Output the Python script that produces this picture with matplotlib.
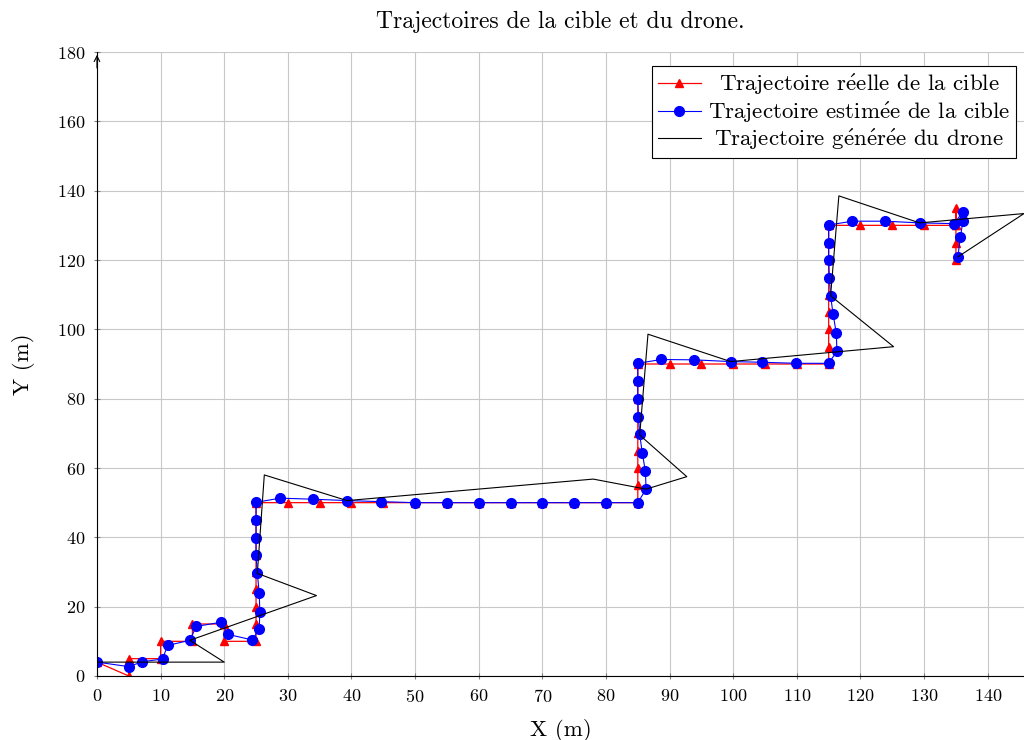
import matplotlib
matplotlib.use("Agg")
import matplotlib.pyplot as plt

plt.rcParams['font.family'] = ['cmr10', 'DejaVu Serif']
plt.rcParams['mathtext.fontset'] = 'cm'
plt.rcParams['axes.formatter.use_mathtext'] = True

# trajectoire reelle de la cible
real_x = [0, 5, 5, 10, 10, 15, 15, 20, 20, 25,
          25, 25, 25, 25, 25, 25, 25, 25,
          30, 35, 40, 45, 50, 55, 60, 65, 70, 75, 80, 85,
          85, 85, 85, 85, 85, 85, 85, 85,
          90, 95, 100, 105, 110, 115,
          115, 115, 115, 115, 115, 115, 115, 115,
          120, 125, 130, 135, 135, 135, 135, 135]
real_y = [4, 0, 5, 5, 10, 10, 15, 15, 10, 10,
          15, 20, 25, 30, 35, 40, 45, 50,
          50, 50, 50, 50, 50, 50, 50, 50, 50, 50, 50, 50,
          55, 60, 65, 70, 75, 80, 85, 90,
          90, 90, 90, 90, 90, 90,
          95, 100, 105, 110, 115, 120, 125, 130,
          130, 130, 130, 130, 135, 130, 125, 120]

# trajectoire estimee
est_x = [0, 5, 7.1, 10.3, 11.1, 14.6, 15.6, 19.5, 20.6, 24.4,
         25.5, 25.6, 25.5, 25.2, 25.0, 25.0, 25.0, 25.0,
         28.8, 33.9, 39.3, 44.6, 50, 55, 60, 65, 70, 75, 80, 85,
         86.3, 86.2, 85.7, 85.3, 85.1, 85.0, 85.0, 85.0,
         88.7, 93.9, 99.6, 104.6, 109.9, 115.0,
         116.3, 116.2, 115.7, 115.3, 115.1, 115.0, 115.0, 115.0,
         118.7, 123.9, 129.3, 134.7, 136.1, 136.1, 135.7, 135.3]
est_y = [4, 2.7, 4.1, 4.9, 8.8, 10.3, 14.3, 15.5, 12.0, 10.4,
         13.6, 18.5, 24.0, 29.6, 34.8, 39.9, 45.0, 50.1,
         51.3, 51.0, 50.6, 50.3, 50, 50, 50, 50, 50, 50, 50, 50,
         53.9, 59.0, 64.4, 69.7, 74.8, 79.9, 85.1, 90.2,
         91.3, 91.2, 90.7, 90.5, 90.2, 90.2,
         93.7, 98.9, 104.3, 109.7, 114.9, 120.0, 125.0, 130.1,
         131.2, 131.2, 130.7, 130.5, 133.9, 131.3, 126.5, 120.9]

# trajectoire du drone
drone_x = [0, 20, 14.6, 34.5, 25.2, 26.3, 39.3, 78, 86.3, 92.7, 85.3,
           86.6, 99.6, 125.2, 115.3, 116.6, 129.3, 145.7, 135.3]
drone_y = [4, 4, 10.3, 23.2, 29.6, 58.0, 50.6, 56.8, 53.9, 57.5, 69.5,
           98.6, 90.7, 95.0, 109.7, 138.5, 130.7, 133.4, 120.9]

E = r'$\acute{\rm e}$'
labels = ['Trajectoire r' + E + 'elle de la cible',
          'Trajectoire estim' + E + 'e de la cible',
          'Trajectoire g' + E + 'n' + E + 'r' + E + 'e du drone']

fig = plt.figure(figsize=(10.24, 7.40), dpi=100)
ax = fig.add_axes([0.0947, 0.0865, 0.9053, 0.8432])

ax.plot(real_x, real_y, color='red', lw=0.9, marker='^', ms=5.5, label=labels[0])
ax.plot(est_x, est_y, color='blue', lw=0.8, marker='o', ms=7, label=labels[1])
ax.plot(drone_x, drone_y, color='black', lw=0.8, label=labels[2])

ax.set_xlim(0, 145.7)
ax.set_ylim(0, 180)
ax.set_xticks(range(0, 141, 10))
ax.set_yticks(range(0, 181, 20))
ax.grid(True, color='#c8c8c8', lw=0.8)
ax.set_axisbelow(True)
ax.tick_params(direction='inout', length=5, color='#808080', labelsize=13, pad=6)

ax.spines['top'].set_visible(False)
ax.spines['right'].set_visible(False)
ax.spines['left'].set_linewidth(0.8)
ax.spines['bottom'].set_linewidth(0.8)
ax.annotate('', xy=(0, 1.0), xytext=(0, 0.97), xycoords='axes fraction',
            arrowprops=dict(arrowstyle='->', lw=0.8, color='black'))

ax.set_xlabel('X (m)', fontsize=16.5, labelpad=10)
ax.set_ylabel('Y (m)', fontsize=16.5, labelpad=16)
ax.set_title('Trajectoires de la cible et du drone.', fontsize=17, pad=17)

leg = ax.legend(loc='upper right', bbox_to_anchor=(0.9914, 0.9776), borderaxespad=0,
                fontsize=16.5, fancybox=False, edgecolor='black', framealpha=1,
                handlelength=1.9, borderpad=0.25, labelspacing=0.12, handletextpad=0.3)
leg.get_frame().set_linewidth(0.8)

# centre legend texts like pgfplots
fig.canvas.draw()
r = fig.canvas.get_renderer()
widths = [t.get_window_extent(r).width for t in leg.get_texts()]
for t, w in zip(leg.get_texts(), widths):
    t.set_x((max(widths) - w) / 2)

fig.savefig('out.png', dpi=100)
